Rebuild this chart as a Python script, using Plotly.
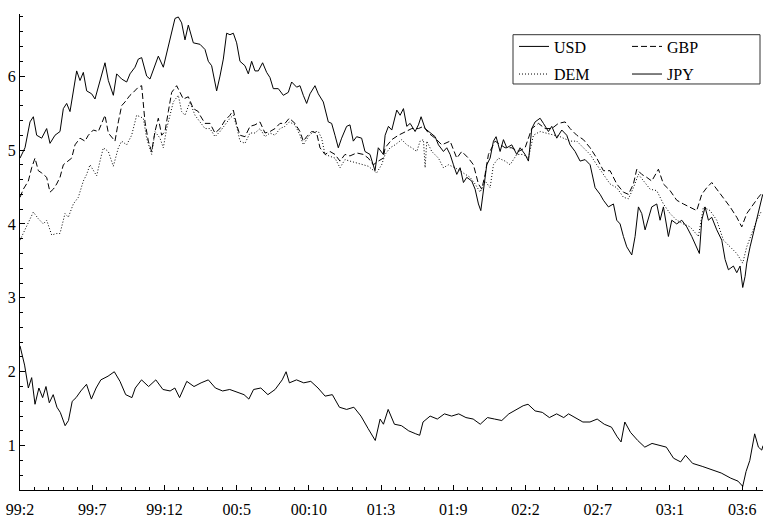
import plotly.graph_objects as go

# time axis: months since 1999:2 (position along the axis)
usd_t = [0.00,0.36,0.72,0.96,1.20,1.56,1.92,2.16,2.52,2.88,3.12,3.36,3.60,3.84,4.08,4.32,4.56,4.80,5.16,5.40,
         5.76,6.12,6.36,6.72,6.96,7.32,7.68,7.92,8.28,8.52,8.76,9.12,9.36,9.72,9.96,10.32,10.68,10.92,11.16,11.40,
         11.64,11.88,12.12,12.48,12.84,
         12.96,13.32,13.56,13.80,14.04,14.16,14.40,14.64,14.88,15.12,15.36,15.60,15.84,16.20,16.44,16.68,16.92,17.16,17.47,17.76,
         18.00,18.24,18.60,18.96,19.32,19.56,19.92,20.16,20.40,20.64,20.88,21.24,21.48,21.84,22.20,22.44,22.68,22.92,23.16,23.52,
         23.76,24.00,24.24,24.60,24.84,25.20,25.56,25.80,26.16,
         26.29,26.53,26.77,27.13,27.37,27.61,27.85,28.09,28.45,28.69,28.88,29.17,29.53,29.89,30.13,30.49,30.73,30.97,31.21,31.45,
         31.69,31.93,32.17,32.53,32.77,33.01,33.18,33.37,33.61,33.85,34.09,34.28,34.57,34.81,35.05,35.41,35.77,36.01,36.37,36.61,
         36.85,37.09,37.45,37.69,38.05,38.29,38.65,39.01,39.37,
         39.61,39.97,40.33,40.69,41.05,41.41,41.77,42.01,42.37,42.73,42.97,43.21,43.45,43.69,44.05,44.29,44.53,44.77,45.01,45.25,
         45.49,45.85,46.09,46.33,46.69,46.93,47.29,47.65,48.01,48.37,48.73,48.92,49.09,49.33,49.57,49.81,50.17,50.53,50.77,51.01,
         51.37,51.61,51.85,52.04,52.21,52.33,52.57,52.81,53.05,53.29,53.48]
usd_v = [4.89,5.03,5.38,5.45,5.20,5.16,5.29,5.09,5.20,5.25,5.56,5.63,5.52,5.80,6.07,5.94,6.05,5.80,5.76,5.69,
         5.94,6.18,5.94,5.74,6.03,5.96,5.92,6.03,6.12,6.23,6.25,6.00,5.96,6.16,6.27,6.12,6.40,6.63,6.78,6.80,
         6.72,6.49,6.69,6.45,6.43,
         6.43,6.36,6.20,6.14,5.94,5.80,6.00,6.23,6.58,6.56,6.58,6.45,6.20,6.14,6.03,6.20,6.07,6.07,6.18,6.05,
         5.98,5.83,5.83,5.74,5.78,5.92,5.85,5.87,5.74,5.63,5.76,5.87,5.76,5.65,5.38,5.36,5.20,5.03,5.16,5.32,
         5.34,5.12,5.18,5.16,4.98,4.94,4.72,5.03,4.94,
         5.20,5.32,5.27,5.54,5.47,5.56,5.32,5.36,5.25,5.34,5.45,5.29,5.23,5.18,5.07,4.98,5.03,4.94,4.80,4.67,
         4.76,4.56,4.63,4.58,4.47,4.27,4.18,4.47,4.80,4.89,5.12,5.18,4.98,5.14,5.03,5.07,4.94,5.03,4.94,4.85,
         5.29,5.38,5.43,5.36,5.25,5.32,5.16,5.27,5.20,
         5.07,4.98,4.85,4.87,4.80,4.49,4.40,4.32,4.23,4.27,4.05,4.00,3.83,3.69,3.58,3.83,4.23,4.14,3.92,4.09,
         4.23,4.27,4.05,4.23,3.83,4.05,4.00,4.05,3.96,3.83,3.69,3.60,4.05,4.23,4.05,4.09,3.92,3.78,3.52,3.38,
         3.43,3.34,3.43,3.14,3.29,3.47,3.69,3.87,4.05,4.23,4.40]

gbp_t = [0.00,0.24,0.60,0.84,1.08,1.32,1.56,1.92,2.16,2.40,2.64,2.88,3.12,3.48,3.72,3.96,4.32,4.68,4.92,5.28,
         5.64,5.88,6.12,6.36,6.60,6.84,7.08,7.32,7.56,7.92,8.16,8.52,8.76,9.00,9.24,9.48,9.72,9.96,10.20,10.44,
         10.68,10.92,11.28,11.52,11.76,12.12,12.48,12.84,
         12.96,13.32,13.68,14.04,14.40,14.76,15.12,15.36,15.60,15.84,16.20,16.56,16.92,17.28,17.64,18.00,18.36,18.72,19.08,19.39,
         19.80,20.16,20.40,20.64,21.00,21.36,21.60,21.96,22.32,22.68,23.04,23.40,23.76,24.24,24.72,25.08,25.44,25.80,26.16,
         26.29,26.77,27.25,27.73,28.21,28.69,29.05,29.41,29.89,30.37,30.97,31.45,31.81,32.29,32.65,33.01,33.25,33.49,33.73,34.21,
         34.57,34.93,35.41,35.89,36.37,36.85,37.33,37.81,38.29,38.77,39.25,
         39.61,40.09,40.57,41.05,41.53,42.01,42.49,42.97,43.45,43.81,44.17,44.41,44.77,45.13,45.49,45.97,46.33,46.81,47.29,47.77,
         48.25,48.73,49.09,49.45,49.81,50.17,50.65,51.13,51.61,51.97,52.33,52.81,53.17,53.48]
gbp_v = [4.36,4.47,4.58,4.76,4.89,4.72,4.69,4.63,4.43,4.47,4.54,4.63,4.80,4.85,4.89,5.07,5.16,5.12,5.20,5.27,
         5.25,5.36,5.47,5.23,5.18,5.12,5.38,5.60,5.65,5.74,5.78,5.85,5.87,5.38,5.12,4.98,5.25,5.43,5.20,5.25,
         5.52,5.78,5.87,5.78,5.69,5.72,5.56,5.52,
         5.47,5.36,5.36,5.23,5.29,5.40,5.47,5.54,5.34,5.20,5.18,5.32,5.34,5.38,5.23,5.25,5.29,5.36,5.36,5.43,
         5.36,5.25,5.12,5.18,5.25,5.23,5.03,4.94,4.98,4.94,4.85,4.94,4.92,4.96,4.94,4.89,4.80,4.85,4.89,
         5.03,5.14,5.20,5.25,5.29,5.29,5.32,5.23,5.16,5.07,5.12,4.89,4.98,4.89,4.80,4.54,4.47,4.67,4.94,5.12,
         5.07,5.03,5.03,4.98,5.03,5.29,5.36,5.29,5.29,5.36,5.38,
         5.29,5.20,5.14,5.03,4.89,4.72,4.72,4.54,4.43,4.40,4.54,4.74,4.67,4.63,4.58,4.74,4.54,4.45,4.32,4.27,
         4.23,4.18,4.40,4.49,4.56,4.47,4.36,4.23,4.09,3.96,4.14,4.27,4.36,4.43]

dem_t = [0.00,0.36,0.72,0.96,1.32,1.68,1.92,2.28,2.64,2.88,3.24,3.48,3.84,4.20,4.56,4.80,5.04,5.28,5.52,5.76,
         6.00,6.36,6.72,7.08,7.32,7.68,8.04,8.40,8.64,8.88,9.12,9.48,9.72,10.08,10.32,10.56,10.80,11.04,11.40,11.64,
         11.88,12.24,12.60,
         12.96,13.32,13.68,14.04,14.40,14.76,15.12,15.36,15.60,15.84,16.20,16.56,16.92,17.28,17.64,18.00,18.36,18.72,19.08,19.39,
         19.80,20.16,20.40,20.76,21.12,21.48,21.72,21.96,22.32,22.68,23.04,23.40,23.76,24.24,24.72,25.08,25.44,25.68,26.04,
         26.29,26.65,27.01,27.49,27.85,28.21,28.57,28.81,29.05,29.17,29.29,29.65,30.13,30.49,30.85,31.33,31.69,32.05,32.41,32.77,
         33.13,33.49,33.85,34.09,34.45,34.93,35.29,35.77,36.25,36.61,36.97,37.45,37.93,38.41,38.89,39.37,
         39.61,40.09,40.57,41.05,41.53,42.01,42.49,42.97,43.45,43.81,44.17,44.53,44.89,45.37,45.85,46.33,46.81,47.29,47.77,48.25,
         48.85,49.21,49.69,50.17,50.65,51.13,51.61,52.04,52.33,52.69,53.05,53.41]
dem_v = [3.78,3.92,4.05,4.16,4.07,4.00,4.05,3.85,3.87,3.87,4.14,4.09,4.27,4.36,4.58,4.67,4.80,4.72,4.65,4.85,
         5.03,4.98,4.78,5.03,5.12,5.07,5.20,5.47,5.45,5.43,5.16,4.94,5.25,5.16,5.03,5.29,5.47,5.65,5.74,5.52,
         5.47,5.65,5.47,
         5.38,5.29,5.29,5.18,5.25,5.34,5.43,5.47,5.32,5.12,5.09,5.23,5.23,5.29,5.18,5.23,5.20,5.29,5.32,5.38,
         5.34,5.20,5.07,5.18,5.25,5.25,5.16,4.94,4.92,4.89,4.76,4.87,4.85,4.83,4.80,4.78,4.72,4.69,4.80,
         4.94,5.03,5.07,5.14,5.07,5.03,4.98,5.12,5.14,4.76,5.12,4.98,4.89,4.76,4.80,4.76,4.72,4.67,4.63,4.54,
         4.43,4.58,4.49,4.80,4.89,4.85,4.80,4.94,4.94,4.89,5.20,5.25,5.23,5.20,5.18,5.14,
         5.12,5.12,5.03,4.94,4.80,4.67,4.54,4.49,4.36,4.34,4.49,4.67,4.58,4.47,4.45,4.27,4.14,4.05,4.00,3.96,
         3.83,4.23,4.18,4.05,3.78,3.69,3.60,3.47,3.69,3.87,4.05,4.18]

jpy_t = [0.00,0.33,0.60,0.84,1.08,1.36,1.63,1.87,2.11,2.39,2.66,2.90,3.25,3.49,3.76,4.04,4.38,4.79,5.14,5.48,
         5.82,6.34,6.79,7.20,7.61,8.06,8.30,8.75,9.26,9.78,10.29,10.81,11.15,11.49,12.01,12.53,13.04,13.56,14.07,14.59,
         15.10,15.62,16.13,16.48,16.82,17.34,17.85,18.37,18.88,19.16,19.40,19.91,20.43,20.94,21.46,21.97,22.49,23.00,23.52,24.04,
         24.55,25.07,25.58,25.93,26.17,26.51,26.96,27.47,27.99,28.50,28.78,29.02,29.53,30.05,30.56,31.08,31.59,32.11,32.63,33.14,
         33.66,34.17,34.69,35.20,35.72,36.23,36.58,37.09,37.61,38.12,38.64,39.15,39.50,40.01,40.53,41.04,41.56,42.07,42.59,43.00,
         43.28,43.55,43.96,44.48,44.99,45.51,46.03,46.54,47.06,47.57,47.92,48.43,49.12,49.81,50.49,51.18,51.70,52.04,52.28,52.55,
         52.90,53.17,53.41,53.50]
jpy_v = [2.35,2.09,1.78,1.92,1.56,1.78,1.65,1.80,1.58,1.69,1.52,1.45,1.27,1.34,1.60,1.65,1.74,1.83,1.63,1.78,
         1.89,1.94,2.00,1.87,1.69,1.65,1.78,1.89,1.80,1.89,1.76,1.74,1.78,1.65,1.87,1.80,1.85,1.89,1.78,1.74,
         1.76,1.72,1.69,1.63,1.76,1.78,1.69,1.76,1.89,2.00,1.85,1.89,1.85,1.87,1.78,1.67,1.69,1.52,1.49,1.52,
         1.40,1.23,1.07,1.36,1.29,1.49,1.29,1.27,1.20,1.16,1.14,1.32,1.40,1.36,1.43,1.40,1.43,1.38,1.36,1.29,
         1.38,1.36,1.34,1.43,1.49,1.54,1.56,1.47,1.45,1.38,1.43,1.38,1.43,1.38,1.32,1.32,1.36,1.29,1.25,1.12,
         1.05,1.32,1.18,1.07,0.98,1.03,1.00,0.98,0.83,0.78,0.87,0.76,0.72,0.67,0.63,0.56,0.52,0.45,0.65,0.80,
         1.16,0.98,0.94,1.00]

tick_months = [0, 5.2, 10.4, 15.6, 20.8, 26.0, 31.2, 36.4, 41.6, 46.8, 52.0]
tick_labels = ['99:2', '99:7', '99:12', '00:5', '00:10', '01:3', '01:9', '02:2', '02:7', '03:1', '03:6']

FONT = 'Liberation Serif'

series = [
    ('USD', usd_t, usd_v, 'solid', 'legend'),
    ('GBP', gbp_t, gbp_v, '6px,3px', 'legend3'),
    ('DEM', dem_t, dem_v, '1px,2px', 'legend2'),
    ('JPY', jpy_t, jpy_v, 'solid', 'legend4'),
]

fig = go.Figure()
for name, t, v, dash, lg in series:
    fig.add_trace(go.Scatter(x=t, y=v, mode='lines', name=name, legend=lg,
                             line=dict(color='black', width=1, dash=dash)))

W, H = 763, 518
ml, mr, mt, mb = 20, 0, 14, 21
pw, ph = W - ml - mr, H - mt - mb

def px_x(p):
    return (p - ml) / pw

def px_y(p):
    return (H - mb - p) / ph

leg_common = dict(font=dict(family=FONT, size=16, color='black'), bgcolor='rgba(0,0,0,0)',
                  borderwidth=0, xanchor='left', yanchor='middle')
fig.update_layout(
    legend=dict(x=px_x(514), y=px_y(47), **leg_common),
    legend2=dict(x=px_x(514), y=px_y(75), **leg_common),
    legend3=dict(x=px_x(627), y=px_y(47), **leg_common),
    legend4=dict(x=px_x(627), y=px_y(75), **leg_common),
)

fig.add_shape(type='rect', xref='paper', yref='paper',
              x0=px_x(513), x1=px_x(760), y0=px_y(85), y1=px_y(35),
              line=dict(color='#333333', width=1))

fig.update_layout(
    width=W, height=H,
    margin=dict(l=ml, r=mr, t=mt, b=mb, pad=0),
    paper_bgcolor='white', plot_bgcolor='white',
    font=dict(family=FONT, size=16, color='black'),
    showlegend=True,
    xaxis=dict(range=[0, 53.5], tickmode='array', tickvals=tick_months, ticktext=tick_labels,
               showgrid=False, zeroline=False, showline=True, linecolor='black', linewidth=1,
               ticks='inside', ticklen=5, tickwidth=1, tickcolor='black',
               ticklabelstandoff=5,
               minor=dict(ticks='inside', ticklen=3, tickwidth=1, tickcolor='black', dtick=1.04, tick0=0,
                          showgrid=False)),
    yaxis=dict(range=[0.4, 6.84], tickmode='array', tickvals=[1, 2, 3, 4, 5, 6],
               showgrid=False, zeroline=False, showline=True, linecolor='black', linewidth=1,
               ticks='inside', ticklen=5, tickwidth=1, tickcolor='black',
               minor=dict(ticks='inside', ticklen=3, tickwidth=1, tickcolor='black', dtick=0.2, tick0=0,
                          showgrid=False)),
)

fig.write_html('out.html')
